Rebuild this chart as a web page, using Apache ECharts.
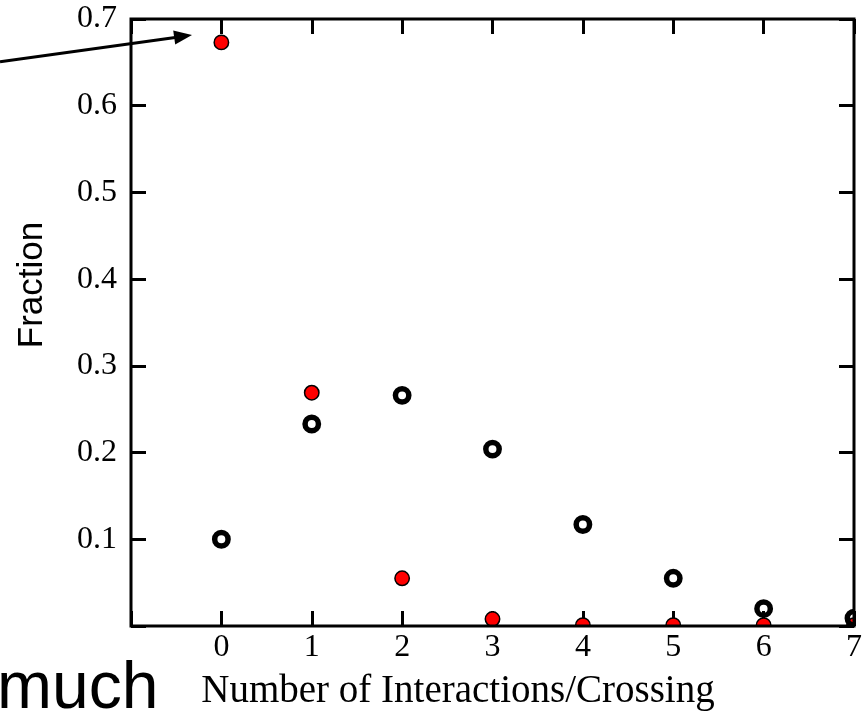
<!DOCTYPE html>
<html>
<head>
<meta charset="utf-8">
<script src="https://cdn.jsdelivr.net/npm/echarts@6/dist/echarts.min.js"></script>
<style>
  html, body { margin: 0; padding: 0; background: #fff; }
  #chart { width: 868px; height: 711px; }
</style>
</head>
<body>
<div id="chart"></div>
<script>
// Number of interactions / crossings per event
var interactions = [0, 1, 2, 3, 4, 5, 6, 7];
// Filled red markers
var fractionFilled = [0.673, 0.269, 0.055, 0.008, 0.001, 0.001, 0.001, 0.001];
// Open black rings
var fractionOpen = [0.100, 0.233, 0.266, 0.204, 0.117, 0.055, 0.020, 0.009];
// Axis tick values
var xTicks = [-1, 0, 1, 2, 3, 4, 5, 6, 7];
var yTicks = [0, 0.1, 0.2, 0.3, 0.4, 0.5, 0.6, 0.7];

function pairs(xs, ys) {
  return xs.map(function (x, i) { return [x, ys[i]]; });
}

var serif = '"Liberation Serif", "Times New Roman", serif';
var sans = '"Liberation Sans", Arial, sans-serif';

var xMin = xTicks[0], xMax = xTicks[xTicks.length - 1];
var yMin = yTicks[0], yMax = yTicks[yTicks.length - 1];

function xAxisDef(pos, showLabels) {
  return {
    type: 'value', position: pos, min: xMin, max: xMax, interval: 1,
    axisLine: { show: false, onZero: false },
    axisTick: { show: true, inside: true, length: 15, lineStyle: { color: '#000', width: 3 } },
    axisLabel: {
      show: showLabels, margin: 6, color: '#000', fontFamily: serif, fontSize: 32,
      formatter: function (v) { return v < 0 ? '' : String(v); }
    },
    splitLine: { show: false }
  };
}
function yAxisDef(pos, showLabels) {
  return {
    type: 'value', position: pos, min: yMin, max: yMax, interval: 0.1,
    axisLine: { show: false, onZero: false },
    axisTick: { show: true, inside: true, length: 15, lineStyle: { color: '#000', width: 3 } },
    axisLabel: {
      show: showLabels, margin: 14, color: '#000', fontFamily: serif, fontSize: 32,
      formatter: function (v) { return v === 0 ? '' : v.toFixed(1); }
    },
    splitLine: { show: false }
  };
}

function filledDot(params, api) {
  var p = api.coord([api.value(0), api.value(1)]);
  return { type: 'circle', shape: { cx: p[0], cy: p[1], r: 7.2 },
           style: { fill: '#ff0000', stroke: '#000', lineWidth: 1.5 } };
}
function openRing(params, api) {
  var p = api.coord([api.value(0), api.value(1)]);
  return { type: 'circle', shape: { cx: p[0], cy: p[1], r: 6.7 },
           style: { fill: 'none', stroke: '#000', lineWidth: 5.5 } };
}

var chart = echarts.init(document.getElementById('chart'), null, { renderer: 'canvas' });
chart.setOption({
  animation: false,
  backgroundColor: '#fff',
  grid: { left: 131, right: 14, top: 19, bottom: 85, show: true, z: 10,
          borderColor: '#000', borderWidth: 3, backgroundColor: 'transparent' },
  xAxis: [xAxisDef('bottom', true), xAxisDef('top', false)],
  yAxis: [yAxisDef('left', true), yAxisDef('right', false)],
  series: [
    { type: 'custom', name: 'filled', clip: true, z: 2,
      data: pairs(interactions, fractionFilled), encode: { x: 0, y: 1 },
      renderItem: filledDot },
    { type: 'custom', name: 'open', clip: true, z: 3,
      data: pairs(interactions, fractionOpen), encode: { x: 0, y: 1 },
      renderItem: openRing }
  ],
  graphic: [
    { type: 'text', x: 32, y: 285, rotation: Math.PI / 2,
      style: { text: 'Fraction', font: '35px ' + sans, fill: '#000',
               textAlign: 'center', textVerticalAlign: 'middle' } },
    { type: 'text', x: 458, y: 692,
      style: { text: 'Number of Interactions/Crossing', font: '39px ' + serif, fill: '#000',
               textAlign: 'center', textVerticalAlign: 'middle' } },
    { type: 'text', x: -3, y: 690,
      style: { text: 'much', font: '66px ' + sans, fill: '#000',
               textAlign: 'left', textVerticalAlign: 'middle' } },
    // annotation arrow pointing at the first filled marker
    { type: 'line', shape: { x1: 0, y1: 61.8, x2: 177, y2: 37.2 },
      style: { stroke: '#000', lineWidth: 3 } },
    { type: 'polygon', shape: { points: [[192, 35], [175.2, 44.4], [173.2, 30.6]] },
      style: { fill: '#000' } }
  ]
});
</script>
</body>
</html>
